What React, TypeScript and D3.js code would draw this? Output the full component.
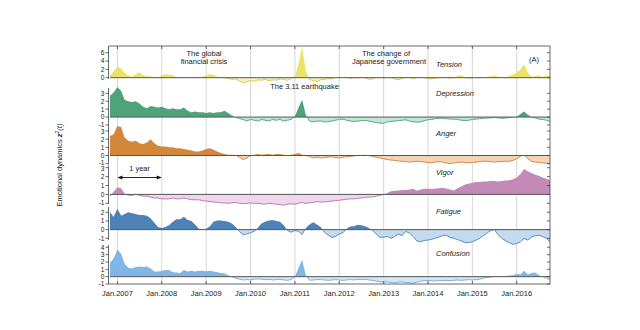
import React from "react";
import * as d3 from "d3";

// ---- data (monthly, Nov 2006 .. Oct 2016) ----
const startMonth = new Date(2006, 10, 1);
const endMonth = new Date(2016, 9, 1);

const tension = [0.5,1.5,2.6,2.2,1.2,0.5,0.3,0.8,1.3,0.6,0.4,0.3,0.2,0.1,0.6,0.8,0.7,0.6,0.1,0.1,0.05,0.1,0,0.05,0.1,0.2,0.5,0.8,0.7,0.3,0.1,0,-0.2,-0.4,-0.3,-0.8,-1.2,-1.0,-0.6,-0.9,-0.5,-0.6,-0.4,-0.7,-0.5,-0.6,-0.3,-0.4,-0.6,-0.2,0.2,3.5,7.4,1.5,-0.4,-0.7,-0.9,-0.5,-0.4,-0.2,-0.3,0.1,0.2,0.1,0.3,-0.2,0.1,-0.1,0.2,0,-0.4,-0.3,0.1,0.2,-0.1,0.1,0,-0.3,-0.5,-0.2,0.1,0.2,-0.3,0.1,0.2,0,-0.2,-0.3,-0.1,0,0.2,0.1,-0.1,0.1,0.4,0.6,0.1,-0.1,0,0.1,0,0.1,0.2,0.3,0.5,0.3,0.1,0,0.4,0.8,1.2,2.0,3.2,1.2,0.2,0.4,0.5,0.2,0.5,0.3];
const depression = [2.7,3.1,3.8,3.3,2.2,2.0,1.9,2.0,1.7,1.3,1.1,1.4,1.3,1.2,1.3,1.1,1.0,1.1,1.0,1.0,1.2,0.8,0.6,0.7,0.6,0.6,0.5,0.6,0.5,0.6,0.6,0.8,0.5,0.2,0.0,-0.2,-0.3,-0.5,-0.3,-0.4,-0.5,-0.3,-0.4,-0.5,-0.3,-0.4,-0.3,-0.5,-0.4,-0.3,0.1,1.2,2.2,0.3,-0.5,-0.6,-0.5,-0.5,-0.6,-0.6,-0.5,-0.4,-0.3,-0.26,-0.4,-0.5,-0.55,-0.5,-0.45,-0.43,-0.5,-0.6,-0.7,-0.75,-0.77,-0.6,-0.56,-0.5,-0.45,-0.4,-0.34,-0.5,-0.6,-0.65,-0.6,-0.45,-0.34,-0.3,-0.2,-0.15,-0.13,-0.2,-0.25,-0.26,-0.3,-0.4,-0.43,-0.4,-0.3,-0.26,-0.2,-0.15,-0.13,-0.1,-0.05,-0.1,-0.15,-0.13,-0.05,0,0.05,0.4,0.7,0.3,0.0,-0.1,-0.26,-0.3,-0.4,-0.56];
const anger = [2.4,2.6,3.6,3.5,2.2,1.8,1.7,1.8,1.5,1.4,1.6,2.0,1.5,1.2,1.1,1.1,1.0,1.0,0.9,0.9,0.8,0.7,0.6,0.5,0.5,0.6,0.8,0.9,0.7,0.5,0.3,0.2,0.1,0.1,0.05,-0.2,-0.5,-0.3,0.0,0.1,0.2,0.1,0.15,0.2,0.1,0.2,0.2,0.1,0.0,0.1,0.2,0.3,0.1,0.0,-0.1,-0.3,-0.2,-0.3,-0.25,-0.2,-0.15,-0.25,-0.3,-0.2,-0.15,-0.1,-0.05,0.0,0.05,0.1,0.0,-0.1,-0.2,-0.3,-0.4,-0.5,-0.55,-0.6,-0.65,-0.7,-0.75,-0.8,-0.75,-0.7,-0.75,-0.8,-0.85,-0.9,-0.8,-0.75,-0.8,-0.9,-1.0,-0.9,-0.85,-0.8,-0.85,-0.9,-0.85,-0.8,-0.75,-0.7,-0.7,-0.75,-0.8,-0.75,-0.75,-0.7,-0.7,-0.6,-0.4,-0.1,0.1,-0.4,-0.7,-0.8,-0.85,-0.9,-0.95,-1.0];
const vigor = [-0.2,0.3,0.8,0.7,0.1,-0.1,-0.1,0.0,-0.1,-0.2,-0.2,-0.3,-0.4,-0.4,-0.5,-0.5,-0.5,-0.4,-0.5,-0.5,-0.4,-0.5,-0.6,-0.6,-0.6,-0.7,-0.75,-0.8,-0.85,-0.9,-0.95,-0.95,-1.0,-0.95,-0.9,-1.0,-1.05,-1.0,-0.95,-1.0,-1.0,-1.05,-1.1,-1.0,-1.05,-1.1,-1.15,-1.2,-1.1,-1.05,-1.1,-1.0,-0.9,-1.0,-0.95,-0.9,-0.8,-0.87,-0.85,-0.8,-0.75,-0.7,-0.65,-0.6,-0.55,-0.5,-0.5,-0.45,-0.4,-0.35,-0.3,-0.3,-0.2,-0.1,0.0,0.15,0.34,0.4,0.45,0.5,0.5,0.55,0.64,0.4,0.55,0.64,0.64,0.6,0.65,0.7,0.72,0.65,0.55,0.45,0.7,0.9,1.1,1.2,1.3,1.4,1.4,1.45,1.45,1.5,1.5,1.45,1.5,1.55,1.6,1.7,1.9,2.3,2.85,2.6,2.4,2.2,2.1,1.9,1.75,1.6];
const fatigue = [2.0,1.5,2.4,1.6,1.8,2.0,1.9,1.8,1.7,1.7,1.6,1.3,0.8,0.3,0.2,0.3,0.5,0.9,1.2,1.2,1.5,1.1,1.0,0.6,0.1,0.05,0.1,0.4,0.9,1.05,1.05,1.0,0.9,0.7,0.3,-0.2,-0.6,-0.5,-0.35,-0.2,0.2,0.7,0.9,1.05,1.1,1.0,0.9,0.5,-0.1,-0.3,-0.1,-0.2,-0.55,0.2,0.6,0.85,0.6,0.3,-0.3,-0.6,-0.9,-0.8,-0.5,-0.35,0.1,0.35,0.4,0.55,0.5,0.4,0.2,-0.1,-0.5,-0.9,-0.85,-0.8,-1.0,-0.8,-0.5,-0.7,-0.2,-0.4,-0.8,-1.3,-1.4,-1.25,-1.2,-1.1,-1.0,-0.85,-0.7,-0.65,-0.9,-1.0,-1.15,-1.3,-1.5,-1.5,-1.4,-1.2,-1.0,-0.7,-0.4,-0.1,0.0,-0.6,-1.0,-1.3,-1.5,-1.7,-1.6,-1.4,-1.0,-1.2,-0.85,-0.7,-0.65,-0.8,-1.0,-1.4];
const confusion = [1.9,2.5,3.7,3.1,1.8,1.2,1.1,1.3,1.4,1.3,1.4,1.1,0.7,0.7,0.8,0.9,0.9,0.6,0.55,0.5,0.9,0.7,0.8,0.7,0.8,0.8,0.75,0.8,0.7,0.6,0.5,0.45,0.2,0.0,-0.2,-0.35,-0.45,-0.4,-0.45,-0.35,-0.3,-0.35,-0.4,-0.35,-0.45,-0.4,-0.35,-0.45,-0.5,-0.4,0.0,1.2,2.3,0.2,-0.5,-0.45,-0.4,-0.4,-0.45,-0.5,-0.45,-0.4,-0.45,-0.5,-0.45,-0.4,-0.45,-0.35,-0.4,-0.35,-0.45,-0.5,-0.6,-0.7,-0.75,-0.7,-0.8,-0.85,-0.75,-0.7,-0.8,-0.85,-0.9,-0.75,-0.6,-0.55,-0.5,-0.55,-0.6,-0.5,-0.55,-0.5,-0.55,-0.5,-0.45,-0.5,-0.45,-0.4,-0.45,-0.4,-0.35,-0.2,-0.1,-0.05,0.05,0.1,0.0,0.1,0.15,0.2,0.4,0.3,0.8,0.3,0.5,0.55,0.2,0.05,-0.2,-0.45];

const tensionTicks = [0, 2, 4, 6];
const depressionTicks = [-1, 0, 1, 2, 3];
const angerTicks = [-1, 0, 1, 2, 3];
const vigorTicks = [-1, 0, 1, 2, 3];
const fatigueTicks = [-1, 0, 1, 2];
const confusionTicks = [-1, 0, 1, 2, 3, 4];

const yearLabels = [2007, 2008, 2009, 2010, 2011, 2012, 2013, 2014, 2015, 2016];

// ---- layout ----
const W = 640, H = 330;
const X0 = 110, X1 = 550, TOP = 46, BOTTOM = 284;

const panels = [
  { name: "Tension", values: tension, ticks: tensionTicks, ref: [0, 6], px: [77.7, 52.7], axis: [46, 79], label: 67, lo: 0, hi: 0, pos: "#ece268", neg: "#f6f1c4", line: "#d9cb4a" },
  { name: "Depression", values: depression, ticks: depressionTicks, ref: [-1, 3], px: [125, 93.3], axis: [88, 126], label: 96, lo: -0.6, hi: 0, pos: "#4fa37b", neg: "#c0e6d7", line: "#5aa983" },
  { name: "Anger", values: anger, ticks: angerTicks, ref: [-1, 3], px: [163.7, 131], axis: [126, 164.5], label: 135.5, lo: -1.3, hi: 0.6, pos: "#d4873b", neg: "#f4d3b6", line: "#d08c4e" },
  { name: "Vigor", values: vigor, ticks: vigorTicks, ref: [-1, 3], px: [203.3, 167.7], axis: [165.5, 204], label: 174.5, lo: -0.6, hi: 1.3, pos: "#c48ab7", neg: "#efd8eb", line: "#b97eab" },
  { name: "Fatigue", values: fatigue, ticks: fatigueTicks, ref: [-1, 2], px: [238.3, 212.3], axis: [207, 240], label: 214, lo: 0, hi: 0.6, pos: "#4d82b8", neg: "#c6daee", line: "#5a8cc0" },
  { name: "Confusion", values: confusion, ticks: confusionTicks, ref: [-1, 4], px: [284, 247.3], axis: [245, 284], label: 256, lo: 0, hi: 0, pos: "#80b7e6", neg: "#d4e6f6", line: "#7aaedc" },
];

const FONT = "'Liberation Sans', Arial, Helvetica, sans-serif";

export default function App() {
  const x = d3.scaleTime().domain([startMonth, endMonth]).range([X0, X1]);
  const dates = d3.range(tension.length).map((i) => d3.timeMonth.offset(startMonth, i));
  const janDates = yearLabels.map((yr) => new Date(yr, 0, 1));

  return (
    <svg width={W} height={H} style={{ position: "absolute", left: 0, top: 0, background: "#fff" }} fontFamily={FONT}>
      <defs>
        {panels.map((p, k) => {
          const y = d3.scaleLinear().domain(p.ref).range(p.px);
          const z = y(0);
          return (
            <React.Fragment key={k}>
              <clipPath id={`pos${k}`}><rect x={X0} y={0} width={X1 - X0} height={z} /></clipPath>
              <clipPath id={`neg${k}`}><rect x={X0} y={z} width={X1 - X0} height={H - z} /></clipPath>
            </React.Fragment>
          );
        })}
      </defs>

      {/* vertical year grid */}
      {janDates.map((d, i) => (
        <line key={i} x1={x(d)} x2={x(d)} y1={TOP} y2={BOTTOM} stroke="#d6d6d6" strokeWidth={1} />
      ))}

      {panels.map((p, k) => {
        const y = d3.scaleLinear().domain(p.ref).range(p.px);
        const z = y(0);
        const area = d3.area<number>().x((_, i) => x(dates[i])).y0(z).y1((v) => y(v));
        const line = d3.line<number>().x((_, i) => x(dates[i])).y((v) => y(v));
        const a = area(p.values) || "";
        const l = line(p.values) || "";
        const nudge = (t: number) => (t === p.ticks[0] ? p.lo : t === p.ticks[p.ticks.length - 1] ? p.hi : 0);
        return (
          <g key={k}>
            <path d={a} fill={p.neg} clipPath={`url(#neg${k})`} />
            <path d={a} fill={p.pos} clipPath={`url(#pos${k})`} />
            <path d={l} fill="none" stroke={p.line} strokeWidth={1} clipPath={`url(#neg${k})`} />
            <line x1={X0} x2={X1} y1={z} y2={z} stroke="#555" strokeWidth={1} />
            {/* left axis */}
            <line x1={X0 - 1.5} x2={X0 - 1.5} y1={p.axis[0]} y2={p.axis[1]} stroke="#444" strokeWidth={0.8} />
            {p.ticks.map((t) => (
              <g key={t}>
                <line x1={X0 - 4.5} x2={X0 - 1.5} y1={y(t)} y2={y(t)} stroke="#444" strokeWidth={0.8} />
                <text x={X0 - 5.5} y={y(t) + 2.4 + nudge(t)} fontSize={6.6} textAnchor="end" fill="#222">{t}</text>
                <line x1={X1 - 3} x2={X1} y1={y(t)} y2={y(t)} stroke="#444" strokeWidth={0.8} />
              </g>
            ))}
            <text x={436} y={p.label} fontSize={7.5} fontStyle="italic" fill="#222">{p.name}</text>
          </g>
        );
      })}

      {/* frame */}
      <line x1={X0 - 1.5} x2={X1} y1={TOP} y2={TOP} stroke="#444" strokeWidth={0.8} />
      <line x1={X1} x2={X1} y1={TOP} y2={BOTTOM} stroke="#444" strokeWidth={0.8} />
      <line x1={X0 - 1.5} x2={X1} y1={BOTTOM} y2={BOTTOM} stroke="#444" strokeWidth={0.8} />
      {janDates.map((d, i) => (
        <g key={i}>
          <line x1={x(d)} x2={x(d)} y1={TOP} y2={TOP + 3} stroke="#444" strokeWidth={0.8} />
          <line x1={x(d)} x2={x(d)} y1={BOTTOM} y2={BOTTOM - 3} stroke="#444" strokeWidth={0.8} />
          <text x={x(d)} y={296} fontSize={7.5} textAnchor="middle" fill="#222">{`Jan.${yearLabels[i]}`}</text>
        </g>
      ))}

      {/* annotations */}
      <text x={204} y={55.5} fontSize={7.5} textAnchor="middle" fill="#222">The global</text>
      <text x={204} y={64} fontSize={7.5} textAnchor="middle" fill="#222">financial crisis</text>
      <text x={304.5} y={89} fontSize={7.5} textAnchor="middle" fill="#222">The 3.11 earthquake</text>
      <text x={386} y={55.5} fontSize={7.5} textAnchor="middle" fill="#222">The change of</text>
      <text x={389} y={64} fontSize={7.5} textAnchor="middle" fill="#222">Japanese government</text>
      <text x={534} y={61.5} fontSize={7.5} textAnchor="middle" fill="#222">(A)</text>

      {/* 1 year arrow */}
      {(() => {
        const xa = x(new Date(2007, 0, 1));
        const xb = x(new Date(2008, 0, 1));
        const ya = 177.5;
        return (
          <g>
            <line x1={xa + 4} x2={xb - 4} y1={ya} y2={ya} stroke="#111" strokeWidth={0.9} />
            <polygon points={`${xa},${ya} ${xa + 5},${ya - 2} ${xa + 5},${ya + 2}`} fill="#111" />
            <polygon points={`${xb},${ya} ${xb - 5},${ya - 2} ${xb - 5},${ya + 2}`} fill="#111" />
            <text x={(xa + xb) / 2} y={170.5} fontSize={7.5} textAnchor="middle" fill="#222">1 year</text>
          </g>
        );
      })()}

      {/* y label */}
      <text transform="translate(62,165) rotate(-90)" fontSize={7.5} textAnchor="middle" fill="#222">
        Emotional dynamics <tspan fontStyle="italic" fontWeight="bold">z</tspan>
        <tspan fontSize={5} dy={-3}>2</tspan>
        <tspan dy={3} fontStyle="italic">(t)</tspan>
      </text>
    </svg>
  );
}
